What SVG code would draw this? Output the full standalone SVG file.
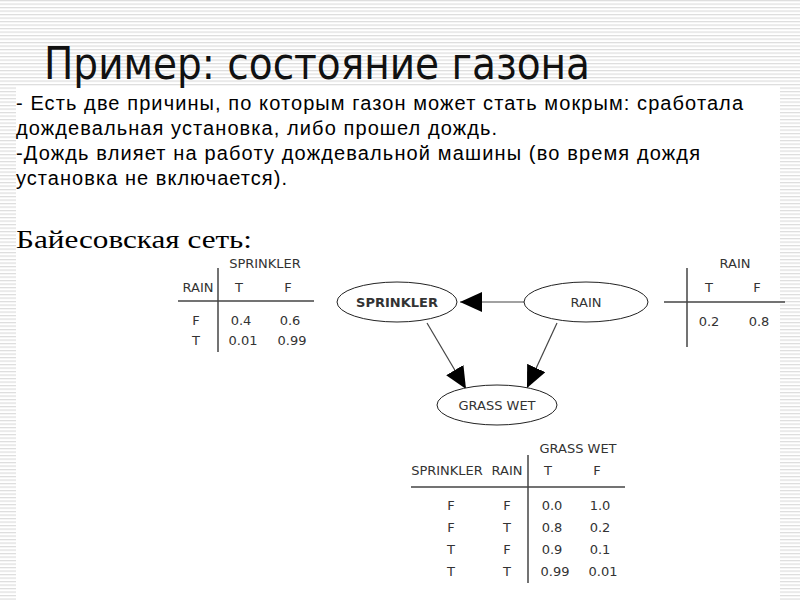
<svg xmlns="http://www.w3.org/2000/svg" width="800" height="600" viewBox="0 0 800 600">
<defs>
<pattern id="stripes" x="0" y="0" width="8" height="3.5" patternUnits="userSpaceOnUse">
<rect x="0" y="0" width="8" height="3.5" fill="#ffffff"/>
<rect x="0" y="0" width="8" height="1.2" fill="#dcdcdc"/>
</pattern>
<marker id="arr" viewBox="0 0 22 20" refX="22" refY="10" markerWidth="22" markerHeight="20" markerUnits="userSpaceOnUse" orient="auto">
<path d="M0,0 L22,10 L0,20 Z" fill="#000"/>
</marker>
<style>
.g{font-family:"DejaVu Sans",sans-serif;font-size:13px;fill:#333}
.b{font-family:"Liberation Sans",Arial,sans-serif;font-size:20px;fill:#000}
.ln{stroke:#444;stroke-width:1.5;fill:none}
.node{fill:#fff;stroke:#222;stroke-width:1}
.edge{stroke:#444;stroke-width:1.2;fill:none}
</style>
</defs>
<rect x="0" y="0" width="800" height="600" fill="url(#stripes)"/>
<rect x="16" y="87" width="764" height="513" fill="#fff"/>
<text x="44" y="79" textLength="546" lengthAdjust="spacingAndGlyphs" style="font-family:'DejaVu Sans Condensed','DejaVu Sans',sans-serif;font-size:44px;fill:#111">Пример: состояние газона</text>
<text class="b" x="16" y="110" textLength="727" lengthAdjust="spacing">- Есть две причины,  по которым газон может стать мокрым: сработала</text>
<text class="b" x="16" y="135" textLength="481" lengthAdjust="spacing">дождевальная установка, либо прошел дождь.</text>
<text class="b" x="16" y="160" textLength="684" lengthAdjust="spacing">-Дождь влияет на работу дождевальной машины (во время дождя</text>
<text class="b" x="16" y="185" textLength="271" lengthAdjust="spacing">установка не включается).</text>
<text x="16" y="248" textLength="236" lengthAdjust="spacingAndGlyphs" style="font-family:'Liberation Serif','Times New Roman',serif;font-size:26px;fill:#000">Байесовская сеть:</text>

<g id="sprinkler-table">
<text class="g" x="265" y="268" text-anchor="middle">SPRINKLER</text>
<text class="g" x="198" y="292" text-anchor="middle">RAIN</text>
<text class="g" x="239" y="292" text-anchor="middle">T</text>
<text class="g" x="288" y="292" text-anchor="middle">F</text>
<line class="ln" x1="178" y1="301" x2="314" y2="301"/>
<line class="ln" x1="218" y1="268" x2="218" y2="352"/>
<text class="g" x="196" y="325" text-anchor="middle">F</text>
<text class="g" x="241" y="325" text-anchor="middle">0.4</text>
<text class="g" x="290" y="325" text-anchor="middle">0.6</text>
<text class="g" x="196" y="345" text-anchor="middle">T</text>
<text class="g" x="243" y="345" text-anchor="middle">0.01</text>
<text class="g" x="292" y="345" text-anchor="middle">0.99</text>
</g>

<g id="rain-table">
<text class="g" x="735" y="268" text-anchor="middle">RAIN</text>
<text class="g" x="709" y="292" text-anchor="middle">T</text>
<text class="g" x="757" y="292" text-anchor="middle">F</text>
<line class="ln" x1="664" y1="302" x2="785" y2="302"/>
<line class="ln" x1="687" y1="268" x2="687" y2="347"/>
<text class="g" x="709" y="326" text-anchor="middle">0.2</text>
<text class="g" x="759" y="326" text-anchor="middle">0.8</text>
</g>

<g id="grasswet-table">
<text class="g" x="578" y="453" text-anchor="middle">GRASS WET</text>
<text class="g" x="447" y="475" text-anchor="middle">SPRINKLER</text>
<text class="g" x="507" y="475" text-anchor="middle">RAIN</text>
<text class="g" x="548" y="475" text-anchor="middle">T</text>
<text class="g" x="597" y="475" text-anchor="middle">F</text>
<line class="ln" x1="411" y1="487" x2="625" y2="487"/>
<line class="ln" x1="528" y1="455" x2="528" y2="583"/>
<text class="g" x="451" y="510" text-anchor="middle">F</text>
<text class="g" x="507" y="510" text-anchor="middle">F</text>
<text class="g" x="552" y="510" text-anchor="middle">0.0</text>
<text class="g" x="600" y="510" text-anchor="middle">1.0</text>
<text class="g" x="451" y="532" text-anchor="middle">F</text>
<text class="g" x="507" y="532" text-anchor="middle">T</text>
<text class="g" x="552" y="532" text-anchor="middle">0.8</text>
<text class="g" x="600" y="532" text-anchor="middle">0.2</text>
<text class="g" x="451" y="554" text-anchor="middle">T</text>
<text class="g" x="507" y="554" text-anchor="middle">F</text>
<text class="g" x="552" y="554" text-anchor="middle">0.9</text>
<text class="g" x="600" y="554" text-anchor="middle">0.1</text>
<text class="g" x="451" y="576" text-anchor="middle">T</text>
<text class="g" x="507" y="576" text-anchor="middle">T</text>
<text class="g" x="555" y="576" text-anchor="middle">0.99</text>
<text class="g" x="603" y="576" text-anchor="middle">0.01</text>
</g>

<g id="connectors">
<line class="edge" x1="524" y1="302" x2="460" y2="302" marker-end="url(#arr)"/>
<line class="edge" x1="427" y1="323" x2="466" y2="389" marker-end="url(#arr)"/>
<line class="edge" x1="557" y1="323" x2="527" y2="388" marker-end="url(#arr)"/>
</g>

<g id="node-sprinkler">
<ellipse class="node" cx="397" cy="302" rx="60" ry="20" stroke-width="2"/>
<text class="g" x="397" y="307" text-anchor="middle" font-weight="bold" font-size="12.5" fill="#111">SPRINKLER</text>
</g>
<g id="node-rain">
<ellipse class="node" cx="586" cy="302" rx="62" ry="20"/>
<text class="g" x="586" y="307" text-anchor="middle">RAIN</text>
</g>
<g id="node-grasswet">
<ellipse class="node" cx="497" cy="405" rx="60" ry="20"/>
<text class="g" x="497" y="410" text-anchor="middle">GRASS WET</text>
</g>
</svg>
